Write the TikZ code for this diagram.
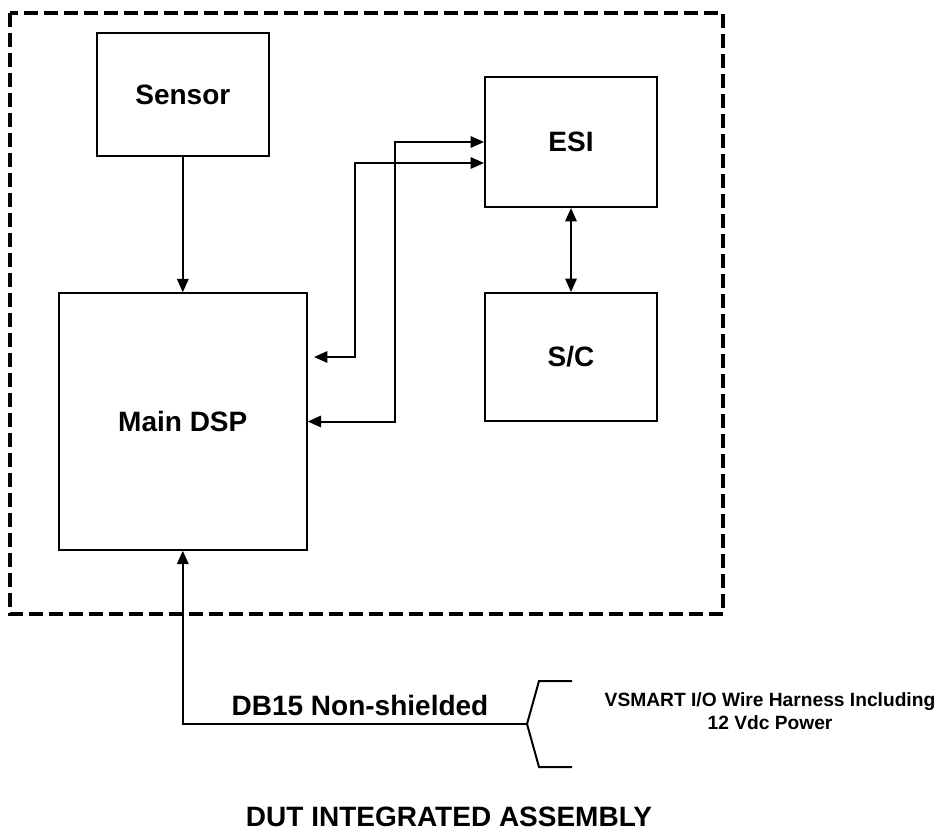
\documentclass[tikz,border=0pt]{standalone}
\usepackage{fontspec}
\setmainfont{Liberation Sans}
\usetikzlibrary{arrows.meta}
\begin{document}
\begin{tikzpicture}[x=0.75pt,y=-0.75pt,
  box/.style={draw,line width=1.5pt,inner sep=0pt,font=\fontsize{21}{25}\bfseries\selectfont},
  lbl/.style={inner sep=0pt,font=\fontsize{21}{25}\bfseries\selectfont},
  small/.style={inner sep=0pt,font=\fontsize{14.4}{17}\bfseries\selectfont},
  wire/.style={line width=1.5pt,line join=miter},
  arr/.style={line width=1.5pt,-{Triangle[length=10pt,width=8.5pt]}},
  darr/.style={line width=1.5pt,{Triangle[length=10pt,width=8.5pt]}-{Triangle[length=10pt,width=8.5pt]}},
  border/.style={line width=3pt,dash pattern=on 10.5pt off 4.5pt}]
\useasboundingbox (0,0) rectangle (937,839);
\draw[border] (10,13) rectangle (723,614);

\node[box,minimum width=129.2pt,minimum height=92pt] (sensor) at (182.8,94.7) {Sensor};
\node[box,minimum width=185.8pt,minimum height=192.3pt] (main) at (182.8,421.5) {Main DSP};
\node[box,minimum width=129pt,minimum height=97.5pt] (esi) at (571,142) {ESI};
\node[box,minimum width=129pt,minimum height=96pt] (sc) at (571,357) {S/C};

\draw[arr] (sensor.south) -- (main.north);
\draw[darr] (esi.south) -- (sc.north);

\coordinate (xA) at (395,0);
\coordinate (xB) at (355,0);
\coordinate (bEnd) at (314,357);
\coordinate (esiB) at ([yshift=-15.75pt]esi.west);
\draw[darr] (main.east) -| (xA |- esi.west) -- (esi.west);
\draw[darr] (bEnd) -| (xB |- esiB) -- (esiB);

\coordinate (j) at (527,724);
\coordinate (bt) at (572,681);
\coordinate (bb) at (572,767);
\draw[arr] (j) -| (main.south);
\draw[wire] (bt) -- (539,681) -- (j) -- (539,767) -- (bb);

\node[lbl,anchor=base] (db) at (360,715) {DB15 Non-shielded};
\node[small,anchor=base] (vs1) at (770,706.7) {VSMART I/O Wire Harness Including};
\node[small,anchor=base] (vs2) at (770,729) {12 Vdc Power};
\node[lbl,anchor=base] (dut) at (449,826.7) {DUT INTEGRATED ASSEMBLY};
\end{tikzpicture}
\end{document}
